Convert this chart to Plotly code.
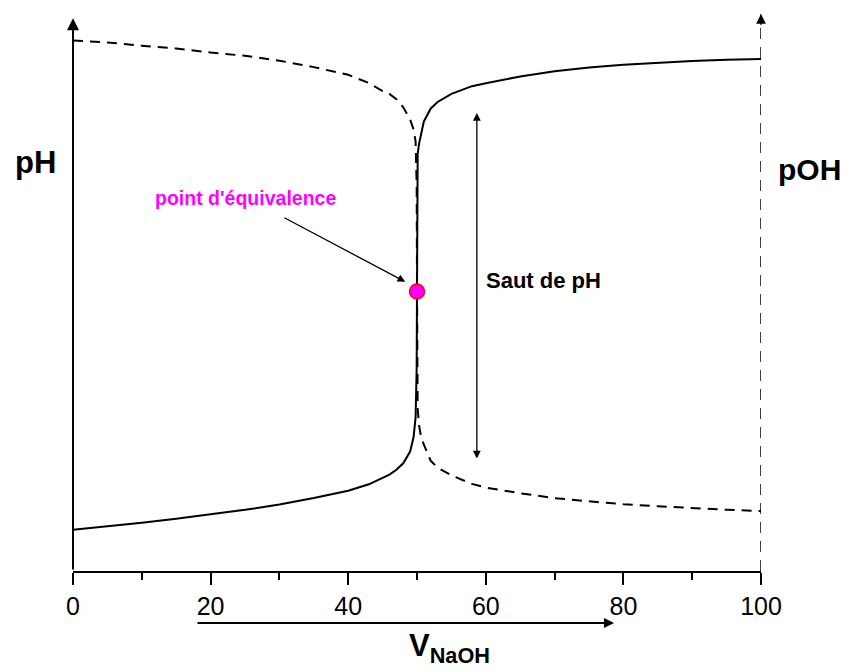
import plotly.graph_objects as go

# Titration data
v_naoh = [0, 5, 10, 15, 20, 25, 30, 35, 40, 43, 45, 46, 47, 48, 49, 49.5, 49.8, 49.9, 49.95,
          50, 50.05, 50.1, 50.3, 50.6, 51, 52, 53, 55, 58, 60, 65, 70, 75, 80, 85, 90, 95, 100]
ph = [1.02, 1.10, 1.19, 1.29, 1.40, 1.51, 1.64, 1.80, 1.98, 2.14, 2.30, 2.38, 2.50, 2.66, 2.95,
      3.30, 3.80, 4.30, 5.00, 6.90, 9.80, 10.30, 10.55, 10.80, 11.10, 11.42, 11.58, 11.78, 11.97,
      12.04, 12.21, 12.34, 12.43, 12.50, 12.55, 12.59, 12.62, 12.64]
poh = [13.10, 13.05, 12.97, 12.90, 12.80, 12.72, 12.60, 12.44, 12.25, 12.05, 11.85, 11.78, 11.65,
       11.45, 11.15, 10.90, 10.60, 10.10, 9.50, 7.10, 4.40, 4.00, 3.60, 3.30, 3.12, 2.72, 2.55,
       2.36, 2.15, 2.06, 1.92, 1.80, 1.72, 1.65, 1.60, 1.55, 1.51, 1.48]
eq_v = [50]
eq_ph = [6.9]
x_ticks = [0, 20, 40, 60, 80, 100]

TXT = "Liberation Sans, Arial, sans-serif"

fig = go.Figure()
fig.add_trace(go.Scatter(x=v_naoh, y=poh, mode="lines",
                         line=dict(color="black", width=2, dash="10px,7px"),
                         hoverinfo="skip", showlegend=False))
fig.add_trace(go.Scatter(x=v_naoh, y=ph, mode="lines",
                         line=dict(color="black", width=2),
                         hoverinfo="skip", showlegend=False))
fig.add_trace(go.Scatter(x=eq_v, y=eq_ph, mode="markers",
                         marker=dict(size=15, color="#ff00ff", line=dict(color="#ff0000", width=1.5)),
                         hoverinfo="skip", showlegend=False))

# right dashed pOH axis
fig.add_shape(type="line", xref="x", yref="y", x0=100, x1=100, y0=0, y1=13.75,
              line=dict(color="black", width=1.5, dash="11px,8px"))

ann = []
# left pH axis with arrow
ann.append(dict(xref="x", yref="y", axref="x", ayref="y", x=0, y=13.65, ax=0, ay=0,
                showarrow=True, arrowhead=2, arrowsize=1.2, arrowwidth=2, arrowcolor="black", text=""))
# arrow head on right axis
ann.append(dict(xref="x", yref="y", axref="x", ayref="y", x=100, y=13.75, ax=100, ay=13.45,
                showarrow=True, arrowhead=2, arrowsize=1.3, arrowwidth=1.5, arrowcolor="black", text=""))
# equivalence point arrow
ann.append(dict(xref="x", yref="y", axref="x", ayref="y", x=48.3, y=7.14, ax=30.5, ay=8.74,
                showarrow=True, arrowhead=2, arrowsize=1.2, arrowwidth=1.3, arrowcolor="black", text=""))
# Saut de pH double arrow
ann.append(dict(xref="x", yref="y", axref="x", ayref="y", x=58.7, y=11.31, ax=58.7, ay=2.74,
                showarrow=True, arrowhead=2, startarrowhead=2, arrowside="end+start",
                arrowsize=1.2, startarrowsize=1.2, arrowwidth=1.3, arrowcolor="black", text=""))
# bottom direction arrow
ann.append(dict(xref="paper", yref="paper", axref="pixel", ayref="pixel", x=0.7863, y=-0.0924,
                ax=-418, ay=0, showarrow=True, arrowhead=2, arrowsize=1.0, arrowwidth=2,
                arrowcolor="black", text=""))
# texts
ann.append(dict(xref="paper", yref="paper", x=-0.0552, y=0.7247, xanchor="center", yanchor="middle",
                text="<b>pH</b>", showarrow=False, font=dict(family=TXT, size=31, color="black")))
ann.append(dict(xref="paper", yref="paper", x=1.0712, y=0.7123, xanchor="center", yanchor="middle",
                text="<b>pOH</b>", showarrow=False, font=dict(family=TXT, size=30, color="black")))
ann.append(dict(xref="x", yref="y", x=59.8, y=7.16, xanchor="left", yanchor="middle",
                text="<b>Saut de pH</b>", showarrow=False, font=dict(family=TXT, size=22, color="black")))
ann.append(dict(xref="x", yref="y", x=11.6, y=9.21, xanchor="left", yanchor="middle",
                text="<b>point d'équivalence</b>", showarrow=False,
                font=dict(family=TXT, size=19.5, color="#ff00ff")))
ann.append(dict(xref="paper", yref="paper", x=0.4855, y=-0.1765, xanchor="left", yanchor="bottom",
                text="<b>V<sub>NaOH</sub></b>", showarrow=False,
                font=dict(family=TXT, size=31, color="black")))

fig.update_layout(
    width=840, height=663,
    margin=dict(l=65, r=87, t=0, b=100),
    paper_bgcolor="white", plot_bgcolor="white",
    annotations=ann,
    xaxis=dict(range=[0, 100], tickvals=x_ticks, ticktext=[str(t) for t in x_ticks],
               showline=True, linewidth=2, linecolor="black", showgrid=False, zeroline=False,
               ticks="outside", ticklen=12, tickwidth=1.5, tickcolor="black",
               minor=dict(dtick=10, tick0=0, ticks="outside", ticklen=7, tickwidth=1.5, tickcolor="black"),
               tickfont=dict(family=TXT, size=25, color="black")),
    yaxis=dict(range=[0, 13.9], visible=False, showgrid=False, zeroline=False),
)

fig.write_html("out.html")
